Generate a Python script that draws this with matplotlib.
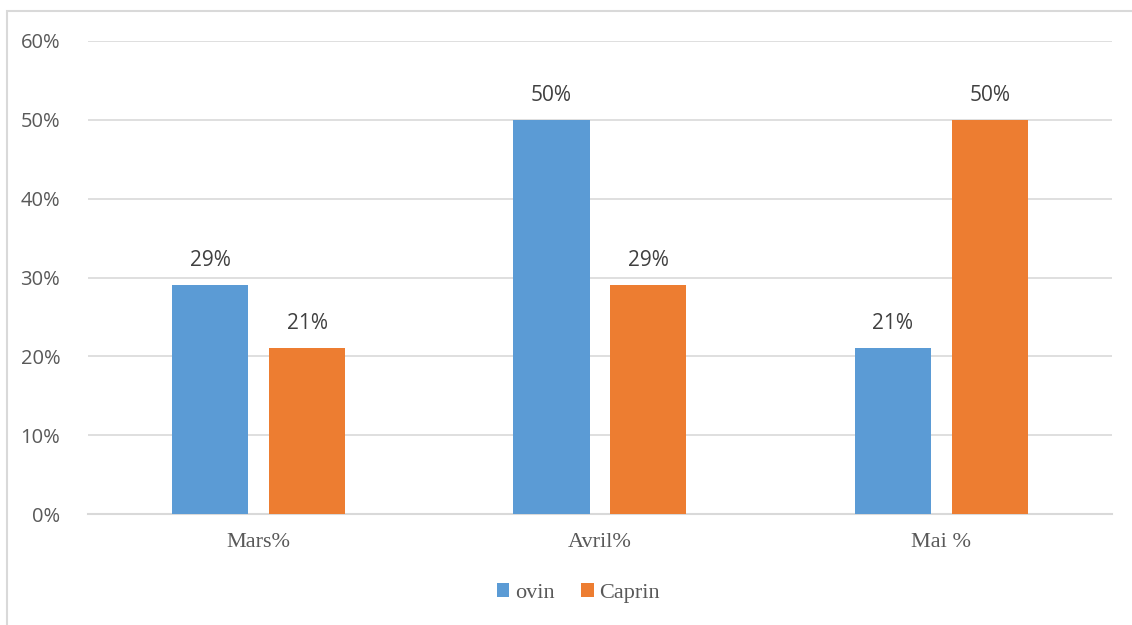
import numpy as np
import matplotlib.pyplot as plt
from matplotlib.patches import Rectangle

categories = ['Mars%', 'Avril%', 'Mai %']
ovin = [29, 50, 21]
caprin = [21, 29, 50]
series_names = ['ovin', 'Caprin']
yticks = [0, 10, 20, 30, 40, 50, 60]

blue = '#5b9bd5'
orange = '#ed7d31'

fig = plt.figure(figsize=(11.32, 6.25), dpi=100)
ax = fig.add_axes([0.0777, 0.1776, 0.9046, 0.7568])

# outer chart frame (runs off the right and bottom edges)
fig.patches.append(Rectangle((7 / 1132, -0.05), 1.2, 0.05 + (625 - 11) / 625,
                             transform=fig.transFigure, fill=False,
                             edgecolor='#d9d9d9', linewidth=1.5))

x = np.arange(len(categories))
w = 0.223
off = 0.142
b1 = ax.bar(x - off, ovin, w, color=blue, label=series_names[0], zorder=3)
b2 = ax.bar(x + off, caprin, w, color=orange, label=series_names[1], zorder=3)

for bars, vals in ((b1, ovin), (b2, caprin)):
    for r, v in zip(bars, vals):
        ax.text(r.get_x() + r.get_width() / 2, v + 1.8, f'{v}%', ha='center', va='bottom',
                fontsize=15, color='#404040', family='Open Sans')

ax.set_xlim(-0.5, 2.5)
ax.set_ylim(0, 60)
ax.set_yticks(yticks)
ax.set_yticklabels([f'{t}%' for t in yticks], fontsize=14.5, color='#595959', family='Open Sans')
ax.set_xticks(x)
ax.set_xticklabels(categories, fontsize=16, color='#595959', family='Liberation Serif')
ax.tick_params(axis='both', length=0)
ax.tick_params(axis='y', pad=20)
ax.tick_params(axis='x', pad=14)
ax.grid(axis='y', color='#d9d9d9', linewidth=1.2, zorder=0)
for s in ['top', 'right', 'left']:
    ax.spines[s].set_visible(False)
ax.spines['bottom'].set_color('#d9d9d9')
ax.spines['bottom'].set_linewidth(1.5)

leg = fig.legend(loc='center', bbox_to_anchor=(0.511, (625 - 593) / 625), ncol=2, frameon=False,
                 prop={'family': 'Liberation Serif', 'size': 16}, handlelength=0.55, handleheight=0.55,
                 handletextpad=0.25, columnspacing=1.2)
for t in leg.get_texts():
    t.set_color('#595959')

fig.savefig('out.png', dpi=100)
